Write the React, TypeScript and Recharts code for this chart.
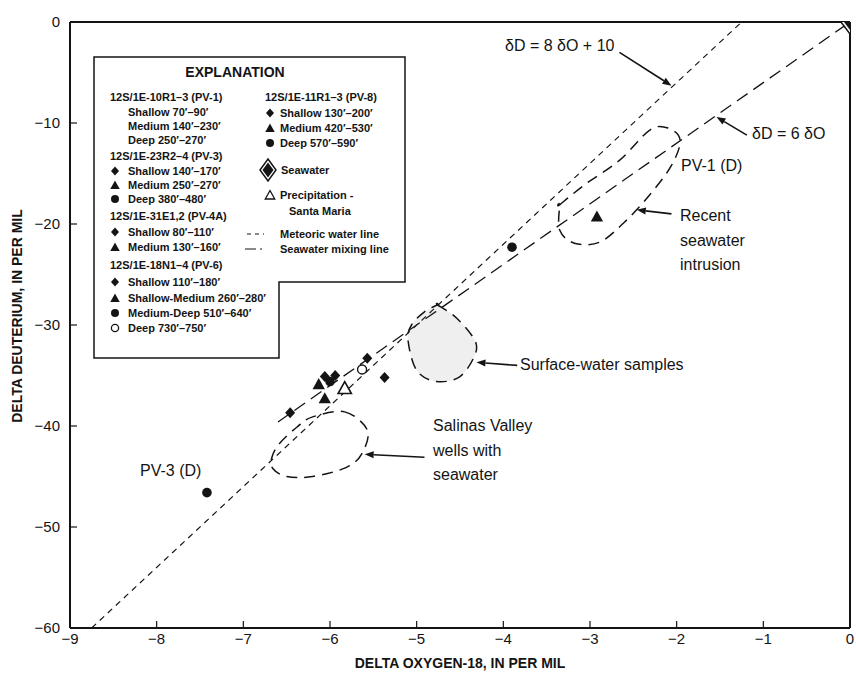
import React from 'react'
import { ScatterChart, Scatter, XAxis, YAxis, ReferenceLine } from 'recharts'

const xTicks = [-9, -8, -7, -6, -5, -4, -3, -2, -1, 0]
const yTicks = [0, -10, -20, -30, -40, -50, -60]

// well samples
const filledDiamonds = [
  { x: -5.57, y: -33.3 },
  { x: -5.37, y: -35.2 },
  { x: -6.06, y: -35.1 },
  { x: -5.94, y: -35.0 },
  { x: -6.46, y: -38.7 },
]
const filledTriangles = [
  { x: -2.92, y: -19.3 },
  { x: -6.13, y: -35.9 },
  { x: -6.06, y: -37.3 },
]
const filledCircles = [
  { x: -3.9, y: -22.3 },
  { x: -7.42, y: -46.6 },
  { x: -6.0, y: -35.6 },
]
const openCircles = [{ x: -5.63, y: -34.4 }]
const openTriangles = [{ x: -5.83, y: -36.3 }]
const seawater = [{ x: 0, y: 0 }]

// reference lines
const meteoricLine = [{ x: -8.75, y: -60 }, { x: -1.25, y: 0 }]
const mixingLine = [{ x: -6.6, y: -39.6 }, { x: 0, y: 0 }]

// dashed envelopes
const recentIntrusion = [
  { x: -3.35, y: -18.1 }, { x: -3.06, y: -16.1 }, { x: -2.66, y: -13.7 },
  { x: -2.31, y: -10.7 }, { x: -2.1, y: -10.5 }, { x: -1.96, y: -11.7 },
  { x: -2.06, y: -14.2 }, { x: -2.31, y: -17.1 }, { x: -2.6, y: -19.8 },
  { x: -2.89, y: -21.8 }, { x: -3.18, y: -21.9 }, { x: -3.35, y: -20.6 },
  { x: -3.35, y: -18.1 },
]
const surfaceWater = [
  { x: -4.76, y: -28.0 }, { x: -4.54, y: -29.3 }, { x: -4.33, y: -31.5 },
  { x: -4.33, y: -33.0 }, { x: -4.5, y: -35.1 }, { x: -4.77, y: -35.6 },
  { x: -5.0, y: -34.5 }, { x: -5.1, y: -31.5 }, { x: -5.06, y: -30.0 },
  { x: -4.91, y: -28.7 }, { x: -4.76, y: -28.0 },
]
const salinasWells = [
  { x: -5.83, y: -38.6 }, { x: -5.57, y: -40.4 }, { x: -5.63, y: -42.7 },
  { x: -5.81, y: -44.1 }, { x: -6.2, y: -45.0 }, { x: -6.5, y: -45.0 },
  { x: -6.66, y: -44.2 }, { x: -6.67, y: -43.1 }, { x: -6.58, y: -41.7 },
  { x: -6.38, y: -40.1 }, { x: -6.2, y: -39.1 },
]

// annotation arrows: tail, head
const arrowMeteoric = [{ x: -2.66, y: -3.0 }, { x: -2.06, y: -6.3 }]
const arrowMixing = [{ x: -1.19, y: -11.2 }, { x: -1.54, y: -9.4 }]
const arrowRecent = [{ x: -2.06, y: -19.0 }, { x: -2.46, y: -18.6 }]
const arrowSurface = [{ x: -3.84, y: -34.0 }, { x: -4.31, y: -33.7 }]
const arrowSalinas = [{ x: -4.91, y: -43.1 }, { x: -5.6, y: -42.8 }]

const FONT = '"Liberation Sans Narrow", "Liberation Sans", Arial, sans-serif'
const INK = '#141414'
const TICK_MARGIN = 8

const fmt = (v: number) => (v < 0 ? `\u2212${Math.abs(v)}` : `${v}`)

const XTick = (p: any) => (
  <g>
    <line x1={p.x} x2={p.x} y1={p.y - TICK_MARGIN} y2={p.y - TICK_MARGIN - 7} stroke={INK} strokeWidth={1.2} />
    <text x={p.x} y={p.y + 8} textAnchor="middle" fontFamily={FONT} fontSize={15} fill={INK}
      style={{ fontStretch: 'condensed' }}>
      {fmt(p.payload.value)}
    </text>
  </g>
)

const YTick = (p: any) => (
  <g>
    <line x1={p.x + TICK_MARGIN} x2={p.x + TICK_MARGIN + 7} y1={p.y} y2={p.y} stroke={INK} strokeWidth={1.2} />
    <text x={p.x - 2} y={p.y + 5} textAnchor="end" fontFamily={FONT} fontSize={15} fill={INK}
      style={{ fontStretch: 'condensed' }}>
      {fmt(p.payload.value)}
    </text>
  </g>
)

const diamondPath = (cx: number, cy: number, h: number, w: number) =>
  `M${cx},${cy - h} L${cx + w},${cy} L${cx},${cy + h} L${cx - w},${cy} Z`
const trianglePath = (cx: number, cy: number, s: number) =>
  `M${cx},${cy - s} L${cx + s * 0.95},${cy + s * 0.7} L${cx - s * 0.95},${cy + s * 0.7} Z`

const Nothing = () => <g />

const dashed = (dash: string, width = 1.3) => (lp: any) => {
  const pts = lp.points || []
  if (!pts.length) return <g />
  const d = pts.map((q: any, i: number) => `${i ? 'L' : 'M'}${q.x},${q.y}`).join(' ')
  return <path d={d} fill="none" stroke={INK} strokeWidth={width} strokeDasharray={dash} />
}

const blob = (fill: string) => (lp: any) => {
  const pts = lp.points || []
  if (!pts.length) return <g />
  const n = pts.length
  let d = ''
  for (let i = 0; i < n; i++) {
    const p0 = pts[(i - 1 + n) % n]
    const p1 = pts[i]
    const p2 = pts[(i + 1) % n]
    const p3 = pts[(i + 2) % n]
    if (i === 0) d += `M${p1.x},${p1.y}`
    const c1x = p1.x + (p2.x - p0.x) / 6
    const c1y = p1.y + (p2.y - p0.y) / 6
    const c2x = p2.x - (p3.x - p1.x) / 6
    const c2y = p2.y - (p3.y - p1.y) / 6
    d += ` C${c1x},${c1y} ${c2x},${c2y} ${p2.x},${p2.y}`
  }
  return <path d={d + ' Z'} fill={fill} stroke={INK} strokeWidth={1.5} strokeDasharray="11 7" />
}

const arrow = (lp: any) => {
  const pts = lp.points || []
  if (pts.length < 2) return <g />
  const [a, b] = pts
  const ang = Math.atan2(b.y - a.y, b.x - a.x)
  const L = 9
  const W = 3.5
  const bx = b.x - L * Math.cos(ang)
  const by = b.y - L * Math.sin(ang)
  const px = -Math.sin(ang) * W
  const py = Math.cos(ang) * W
  return (
    <g>
      <line x1={a.x} y1={a.y} x2={bx} y2={by} stroke={INK} strokeWidth={1.6} />
      <path d={`M${b.x},${b.y} L${bx + px},${by + py} L${bx - px},${by - py} Z`} fill={INK} />
    </g>
  )
}

const Legend = () => {
  const col1: [string, string | null, boolean][] = [
    ['12S/1E-10R1\u20133 (PV-1)', null, true],
    ['Shallow 70\u2032\u201390\u2032', null, false],
    ['Medium 140\u2032\u2013230\u2032', null, false],
    ['Deep 250\u2032\u2013270\u2032', null, false],
    ['12S/1E-23R2\u20134 (PV-3)', null, true],
    ['Shallow 140\u2032\u2013170\u2032', 'diamond', false],
    ['Medium 250\u2032\u2013270\u2032', 'triangle', false],
    ['Deep 380\u2032\u2013480\u2032', 'circle', false],
    ['12S/1E-31E1,2 (PV-4A)', null, true],
    ['Shallow 80\u2032\u2013110\u2032', 'diamond', false],
    ['Medium 130\u2032\u2013160\u2032', 'triangle', false],
    ['12S/1E-18N1\u20134 (PV-6)', null, true],
    ['Shallow 110\u2032\u2013180\u2032', 'diamond', false],
    ['Shallow-Medium 260\u2032\u2013280\u2032', 'triangle', false],
    ['Medium-Deep 510\u2032\u2013640\u2032', 'circle', false],
    ['Deep 730\u2032\u2013750\u2032', 'open', false],
  ]
  const rows1 = [97, 112, 126, 140, 156, 171, 185, 199, 216, 232, 247, 265, 282, 298, 313, 328, 344]
  const sym = (k: string | null, x: number, y: number) => {
    if (k === 'diamond') return <path d={diamondPath(x, y, 4.5, 4)} fill={INK} />
    if (k === 'triangle') return <path d={trianglePath(x, y + 0.5, 5)} fill={INK} />
    if (k === 'circle') return <circle cx={x} cy={y} r={4} fill={INK} />
    if (k === 'open') return <circle cx={x} cy={y} r={3.6} fill="white" stroke={INK} strokeWidth={1.3} />
    if (k === 'opentri') return <path d={trianglePath(x, y + 0.5, 5)} fill="white" stroke={INK} strokeWidth={1.3} />
    return null
  }
  const col2: [string, string | null, boolean, number][] = [
    ['12S/1E-11R1\u20133 (PV-8)', null, true, 97],
    ['Shallow 130\u2032\u2013200\u2032', 'diamond', false, 113],
    ['Medium 420\u2032\u2013530\u2032', 'triangle', false, 128],
    ['Deep 570\u2032\u2013590\u2032', 'circle', false, 143],
    ['Precipitation -', 'opentri', false, 195],
  ]
  return (
    <g fontFamily={FONT} fontWeight="bold" fill={INK} style={{ fontStretch: 'condensed' }}>
      <path d="M94,57 H405 V282 H279 V358 H94 Z" fill="white" stroke={INK} strokeWidth={1.5} />
      <text x={235} y={77} textAnchor="middle" fontSize={14}>EXPLANATION</text>
      {col1.map(([t, k, head], i) => (
        <g key={i}>
          {sym(k, 115, rows1[i])}
          <text x={head ? 110 : 128} y={rows1[i] + 4} fontSize={11}>{t}</text>
        </g>
      ))}
      {col2.map(([t, k, head, y], i) => (
        <g key={i}>
          {sym(k, 270, y)}
          <text x={head ? 265 : 280} y={y + 4} fontSize={11}>{t}</text>
        </g>
      ))}
      <text x={289} y={215} fontSize={11}>Santa Maria</text>
      <path d={diamondPath(268, 170, 11, 8)} fill="white" stroke={INK} strokeWidth={1.5} />
      <path d={diamondPath(268, 170, 7.5, 5.5)} fill={INK} />
      <text x={281} y={174} fontSize={11}>Seawater</text>
      <line x1={247} x2={264} y1={234} y2={234} stroke={INK} strokeWidth={1} strokeDasharray="4 4" />
      <text x={280} y={238} fontSize={11}>Meteoric water line</text>
      <line x1={245} x2={266} y1={249} y2={249} stroke={INK} strokeWidth={1.2} strokeDasharray="11 4 2 4" />
      <text x={280} y={253} fontSize={11}>Seawater mixing line</text>
    </g>
  )
}

const Notes = () => (
  <g fontFamily={FONT} fontSize={16} fill={INK} style={{ fontStretch: 'condensed' }}>
    <text x={505} y={51}>δD = 8 δO + 10</text>
    <text x={752} y={139}>δD = 6 δO</text>
    <text x={681} y={171}>PV-1 (D)</text>
    <text x={680} y={221}>Recent</text>
    <text x={680} y={246}>seawater</text>
    <text x={680} y={270}>intrusion</text>
    <text x={520} y={370}>Surface-water samples</text>
    <text x={433} y={431}>Salinas Valley</text>
    <text x={433} y={456}>wells with</text>
    <text x={433} y={480}>seawater</text>
    <text x={140} y={476}>PV-3 (D)</text>
    <text x={460} y={668} textAnchor="middle" fontSize={14} fontWeight="bold">DELTA OXYGEN-18, IN PER MIL</text>
    <text transform="translate(22,316) rotate(-90)" textAnchor="middle" fontSize={14} fontWeight="bold">
      DELTA DEUTERIUM, IN PER MIL
    </text>
  </g>
)

export default function App() {
  return (
    <div style={{ position: 'absolute', left: 0, top: 0, width: 856, height: 675, background: 'white' }}>
      <ScatterChart width={856} height={675} margin={{ top: 22, right: 6, bottom: 0, left: 0 }}>
        <XAxis
          type="number"
          dataKey="x"
          domain={[-9, 0]}
          ticks={xTicks}
          height={47}
          tickSize={0}
          tickMargin={TICK_MARGIN}
          tick={<XTick />}
          axisLine={{ stroke: INK, strokeWidth: 2 }}
          allowDataOverflow
        />
        <YAxis
          type="number"
          dataKey="y"
          domain={[-60, 0]}
          ticks={yTicks}
          width={70}
          tickSize={0}
          tickMargin={TICK_MARGIN}
          tick={<YTick />}
          axisLine={{ stroke: INK, strokeWidth: 2 }}
          allowDataOverflow
        />
        <ReferenceLine y={0} stroke={INK} strokeWidth={2} />
        <ReferenceLine x={0} stroke={INK} strokeWidth={2} />

        <Scatter data={meteoricLine} shape={Nothing} line={dashed('6 5', 1.2)} lineType="joint" isAnimationActive={false} />
        <Scatter data={mixingLine} shape={Nothing} line={dashed('13 7', 1.3)} lineType="joint" isAnimationActive={false} />
        <Scatter data={recentIntrusion} shape={Nothing} line={blob('none')} lineType="joint" isAnimationActive={false} />
        <Scatter data={surfaceWater} shape={Nothing} line={blob('rgba(120,120,120,0.12)')} lineType="joint" isAnimationActive={false} />
        <Scatter data={salinasWells} shape={Nothing} line={blob('none')} lineType="joint" isAnimationActive={false} />

        <Scatter data={arrowMeteoric} shape={Nothing} line={arrow} lineType="joint" isAnimationActive={false} />
        <Scatter data={arrowMixing} shape={Nothing} line={arrow} lineType="joint" isAnimationActive={false} />
        <Scatter data={arrowRecent} shape={Nothing} line={arrow} lineType="joint" isAnimationActive={false} />
        <Scatter data={arrowSurface} shape={Nothing} line={arrow} lineType="joint" isAnimationActive={false} />
        <Scatter data={arrowSalinas} shape={Nothing} line={arrow} lineType="joint" isAnimationActive={false} />

        <Scatter data={filledDiamonds} isAnimationActive={false}
          shape={(p: any) => <path d={diamondPath(p.cx, p.cy, 5.5, 5)} fill={INK} />} />
        <Scatter data={filledTriangles} isAnimationActive={false}
          shape={(p: any) => <path d={trianglePath(p.cx, p.cy, 6.5)} fill={INK} />} />
        <Scatter data={filledCircles} isAnimationActive={false}
          shape={(p: any) => <circle cx={p.cx} cy={p.cy} r={4.8} fill={INK} />} />
        <Scatter data={openCircles} isAnimationActive={false}
          shape={(p: any) => <circle cx={p.cx} cy={p.cy} r={4.5} fill="white" stroke={INK} strokeWidth={1.4} />} />
        <Scatter data={openTriangles} isAnimationActive={false}
          shape={(p: any) => <path d={trianglePath(p.cx, p.cy, 7)} fill="white" stroke={INK} strokeWidth={1.6} />} />
        <Scatter data={seawater} isAnimationActive={false}
          shape={(p: any) => (
            <g>
              <path d={diamondPath(p.cx, p.cy, 12, 9)} fill="white" stroke={INK} strokeWidth={1.6} />
              <path d={diamondPath(p.cx, p.cy, 8, 6)} fill={INK} />
            </g>
          )} />
      </ScatterChart>
      <svg width={856} height={675} style={{ position: 'absolute', left: 0, top: 0, pointerEvents: 'none' }}>
        <Legend />
        <Notes />
      </svg>
    </div>
  )
}
